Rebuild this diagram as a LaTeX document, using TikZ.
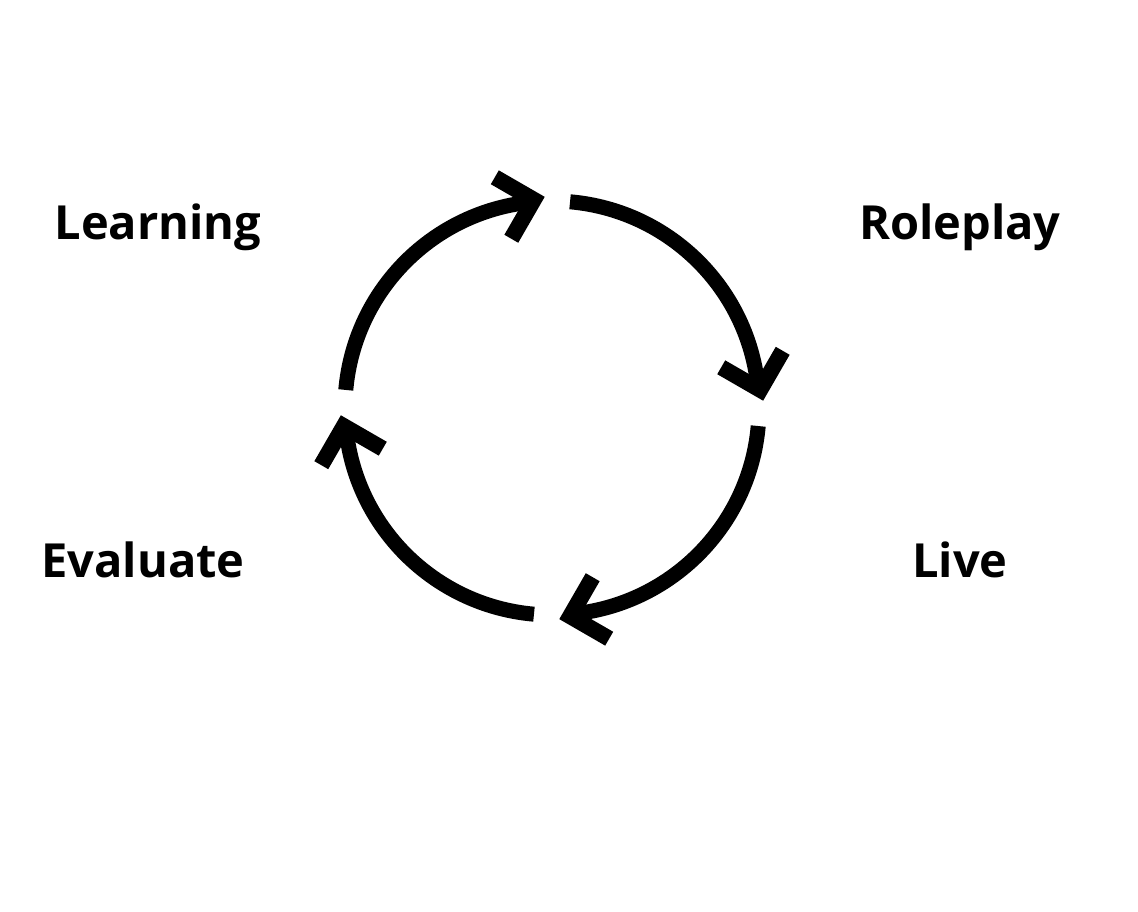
\documentclass[tikz,border=0pt]{standalone}
\usepackage{fontspec}
\setmainfont{Open Sans}
\usetikzlibrary{calc}
\begin{document}
\begin{tikzpicture}[x=1pt,y=1pt,
  ring/.style={line width=15pt, line cap=butt},
  chev/.style={line width=16pt, line cap=butt, line join=miter, miter limit=10},
  lbl/.style={font=\bfseries\fontsize{47}{50}\selectfont, anchor=base, inner sep=0pt}]
\useasboundingbox (0,0) rectangle (1138,912);
\fill[white] (0,0) rectangle (1138,912);
\coordinate (c) at (552,504);
\foreach \k in {0,1,2,3} {
  \pgfmathsetmacro\a{175-90*\k}
  \pgfmathsetmacro\b{95-90*\k}
  \pgfmathsetmacro\p{150-90*\k}
  \pgfmathsetmacro\q{240-90*\k}
  \coordinate (s\k) at ($(c)+(\a:207)$);
  \coordinate (v\k) at ($(c)+(\b:209)$);
  \coordinate (p\k) at ($(v\k)+(\p:45)$);
  \coordinate (q\k) at ($(v\k)+(\q:45)$);
  \draw[ring] (s\k) arc[start angle=\a, end angle=\b, radius=207];
  \draw[chev] (p\k) -- (v\k) -- (q\k);
}
\node[lbl] (learning) at (158,672) {Learning};
\node[lbl] (roleplay) at (960,672) {Roleplay};
\node[lbl] (evaluate) at (143,334) {Evaluate};
\node[lbl] (live) at (960,334) {Live};
\end{tikzpicture}
\end{document}
